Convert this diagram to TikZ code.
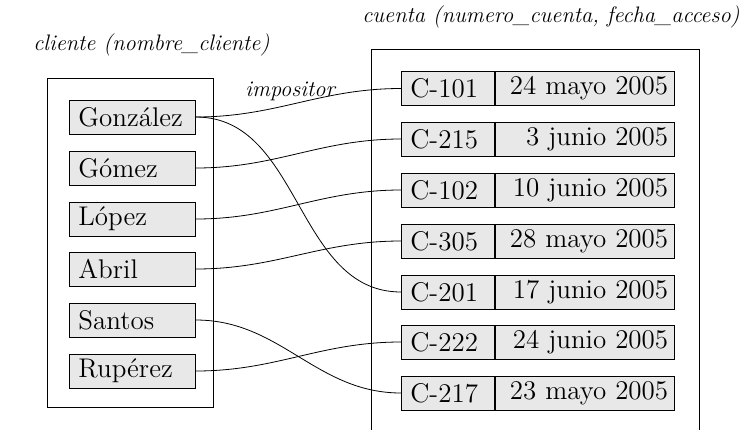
\documentclass[tikz,border=0pt]{standalone}
\usetikzlibrary{positioning}

\tikzset{
    celda/.style={draw, fill=gray!18, minimum height=17pt, inner xsep=4.5pt, inner ysep=0pt,
        font=\fontsize{13.5}{15}\selectfont},
    nombre/.style={celda, text width=54pt, align=left, anchor=west},
    numcta/.style={celda, text width=37.5pt, align=left, anchor=west},
    fecha/.style={celda, inner xsep=3pt, text width=83.5pt, align=right},
    rotulo/.style={anchor=west, inner sep=0pt, font=\fontsize{11.2}{13}\selectfont\itshape},
    enlace/.style={thin, out=0, in=180}
}

\begin{document}
\begin{tikzpicture}[x=0.5pt, y=-0.5pt]
    \useasboundingbox (0,0) rectangle (741,430);

    % marcos
    \draw (47,78) rectangle (213,407);
    \draw (371,430) |- (699,49) -- (699,430);

    % rotulos
    \node[rotulo] (lcliente) at (33,45) {cliente (nombre\_cliente)};
    \node[rotulo] (lcuenta) at (362,17) {cuenta (numero\_cuenta, fecha\_acceso)};
    \node[rotulo] (limpositor) at (245,91) {impositor};

    % clientes
    \node[nombre] (gonzalez) at (69,117) {González};
    \node[nombre] (gomez) at (69,168) {Gómez};
    \node[nombre] (lopez) at (69,219) {López};
    \node[nombre] (abril) at (69,269) {Abril};
    \node[nombre] (santos) at (69,320) {Santos};
    \node[nombre] (luperez) at (69,371) {Rupérez};

    % cuentas
    \node[numcta] (c101) at (401,88.5) {C-101};
    \node[fecha, right=0pt of c101] (f101) {24 mayo 2005};
    \node[numcta] (c215) at (401,139) {C-215};
    \node[fecha, right=0pt of c215] (f215) {3 junio 2005};
    \node[numcta] (c102) at (401,190) {C-102};
    \node[fecha, right=0pt of c102] (f102) {10 junio 2005};
    \node[numcta] (c305) at (401,241) {C-305};
    \node[fecha, right=0pt of c305] (f305) {28 mayo 2005};
    \node[numcta] (c201) at (401,292) {C-201};
    \node[fecha, right=0pt of c201] (f201) {17 junio 2005};
    \node[numcta] (c222) at (401,342) {C-222};
    \node[fecha, right=0pt of c222] (f222) {24 junio 2005};
    \node[numcta] (c217) at (401,393) {C-217};
    \node[fecha, right=0pt of c217] (f217) {23 mayo 2005};

    % impositor
    \draw (gonzalez.east) to[enlace] (c101.west);
    \draw (gonzalez.east) to[enlace] (c201.west);
    \draw (gomez.east) to[enlace] (c215.west);
    \draw (lopez.east) to[enlace] (c102.west);
    \draw (abril.east) to[enlace] (c305.west);
    \draw (santos.east) to[enlace] (c217.west);
    \draw (luperez.east) to[enlace] (c222.west);
\end{tikzpicture}
\end{document}
